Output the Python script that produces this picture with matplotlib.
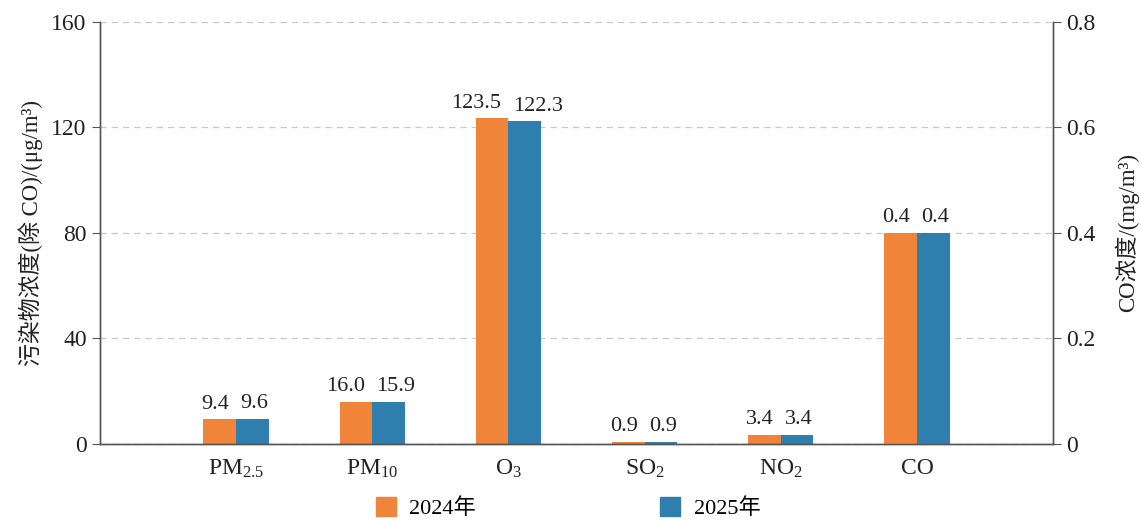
import numpy as np
import matplotlib
matplotlib.use('Agg')
import matplotlib.pyplot as plt
from matplotlib.patches import Patch

plt.rcParams['font.family'] = ['Liberation Serif', 'Noto Sans CJK SC']
plt.rcParams['mathtext.fontset'] = 'custom'
plt.rcParams['mathtext.rm'] = 'Liberation Serif'
plt.rcParams['mathtext.it'] = 'Liberation Serif'

# 数据
categories = ['PM$_{2.5}$', 'PM$_{10}$', 'O$_3$', 'SO$_2$', 'NO$_2$', 'CO']
v2024 = [9.4, 16.0, 123.5, 0.9, 3.4]
v2025 = [9.6, 15.9, 122.3, 0.9, 3.4]
co2024 = 0.4
co2025 = 0.4
years = ['2024年', '2025年']

c_orange = '#F08439'
c_blue = '#2E7FAD'
w = 0.24

fig = plt.figure(figsize=(11.41, 5.21), dpi=100)
ax = fig.add_axes([0.0876, 0.148, 0.8354, 0.81])
ax2 = ax.twinx()

x = np.arange(len(categories))
xl = x[:5]
b1 = ax.bar(xl - w / 2, v2024, w, color=c_orange)
b2 = ax.bar(xl + w / 2, v2025, w, color=c_blue)
c1 = ax2.bar(x[5] - w / 2, co2024, w, color=c_orange)
c2 = ax2.bar(x[5] + w / 2, co2025, w, color=c_blue)

# 数值标签：橙色靠左，蓝色靠右
def label(a, xc, v, side):
    if side == 'l':
        a.annotate(f'{v:.1f}', (xc, v), xytext=(-5, 4), textcoords='offset points',
                   ha='right', va='bottom', fontsize=16, color='#222222')
    else:
        a.annotate(f'{v:.1f}', (xc, v), xytext=(3, 4), textcoords='offset points',
                   ha='left', va='bottom', fontsize=16, color='#222222')

for i in range(5):
    label(ax, xl[i], v2024[i], 'l')
    label(ax, xl[i], v2025[i], 'r')
label(ax2, x[5], co2024, 'l')
label(ax2, x[5], co2025, 'r')

ax.set_xlim(-1, 6)
ax.set_ylim(0, 160)
ax2.set_ylim(0, 0.8)
ax.set_yticks([0, 40, 80, 120, 160])
ax.set_yticklabels(['0', '40', '80', '120', '160'])
ax2.set_yticks([0, 0.2, 0.4, 0.6, 0.8])
ax2.set_yticklabels(['0', '0.2', '0.4', '0.6', '0.8'])
ax.set_xticks(x)
ax.set_xticklabels(categories)
ax.tick_params(axis='x', length=0, labelsize=17, pad=10, colors='#222222')
ax.tick_params(axis='y', length=6, labelsize=17, colors='#222222', direction='out')
ax2.tick_params(axis='y', length=6, labelsize=17, colors='#222222', direction='out')
for a in (ax, ax2):
    a.spines['top'].set_visible(False)
    for s in ['left', 'right', 'bottom']:
        a.spines[s].set_color('#555555')
        a.spines[s].set_linewidth(1.0)
ax.tick_params(axis='y', color='#555555')
ax2.tick_params(axis='y', color='#555555')

ax.yaxis.grid(True, ls=(0, (5, 4)), color='#c8c8c8', lw=0.9)
ax.set_axisbelow(True)

ax.set_ylabel('污染物浓度(除 CO)/(μg/m³)', fontsize=16.5, color='#222222', labelpad=6)
ax2.set_ylabel('CO浓度/(mg/m³)', fontsize=16.5, color='#222222', labelpad=14)

handles = [Patch(color=c_orange), Patch(color=c_blue)]
fig.legend(handles, years, loc='lower center', bbox_to_anchor=(0.498, -0.035),
           ncol=2, frameon=False, fontsize=16, handlelength=0.9, handleheight=0.9,
           columnspacing=8.3, handletextpad=0.6)

fig.savefig('out.png', dpi=100)
